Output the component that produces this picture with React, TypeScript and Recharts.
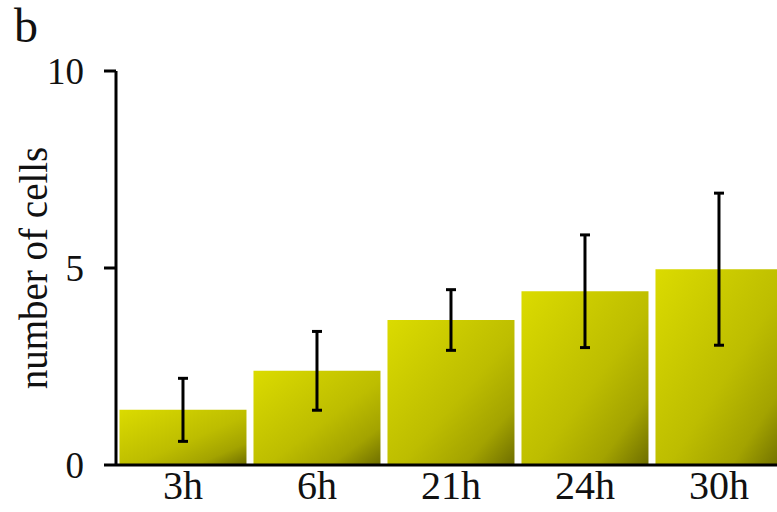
import { BarChart, Bar, XAxis, YAxis, ErrorBar } from 'recharts';

// time points and measured cell counts (mean ± error)
const timePoints = ['3h', '6h', '21h', '24h', '30h'];
const meanCells = [1.4, 2.39, 3.68, 4.41, 4.97];
const errCells = [0.8, 1.0, 0.77, 1.43, 1.93];
const yTicks = [0, 5, 10];

const data = timePoints.map((t, i) => ({ time: t, cells: meanCells[i], err: errCells[i] }));

const FONT = '"Liberation Serif", "Times New Roman", serif';

function YLabel(props: any) {
  const vb = props.viewBox;
  const x = vb.x + 33;
  const y = vb.y + vb.height / 2;
  return (
    <text x={x} y={y} transform={`rotate(-90, ${x}, ${y})`} textAnchor="middle" dominantBaseline="central"
      fontFamily={FONT} fontSize={39} fill="#111">
      number of cells
    </text>
  );
}

export default function App() {
  return (
    <div style={{ position: 'absolute', left: 0, top: 0, width: 777, height: 512, overflow: 'hidden', background: '#fff' }}>
      <div style={{ position: 'absolute', left: 14, top: 2, fontFamily: FONT, fontSize: 48, color: '#111', lineHeight: 1 }}>b</div>
      <BarChart width={786} height={512} data={data} margin={{ top: 71, right: 0, bottom: 0, left: 0 }} barCategoryGap="2.6%">
        <defs>
          <linearGradient id="barGrad" x1="0" y1="0" x2="1" y2="1">
            <stop offset="0%" stopColor="#dbdb00" />
            <stop offset="55%" stopColor="#bdbd00" />
            <stop offset="80%" stopColor="#a3a300" />
            <stop offset="100%" stopColor="#6e6e00" />
          </linearGradient>
        </defs>
        <XAxis dataKey="time" height={47} tickLine={false} axisLine={{ stroke: '#000', strokeWidth: 3 }}
          tick={{ fontFamily: FONT, fontSize: 40, fill: '#111' }} tickMargin={0} interval={0} />
        <YAxis width={116} domain={[0, 10]} ticks={yTicks} tickSize={12} tickMargin={20}
          axisLine={{ stroke: '#000', strokeWidth: 3 }} tickLine={{ stroke: '#000', strokeWidth: 3 }}
          tick={{ fontFamily: FONT, fontSize: 37, fill: '#111' }}
          label={{ content: YLabel }} />
        <Bar dataKey="cells" fill="url(#barGrad)" isAnimationActive={false}>
          <ErrorBar dataKey="err" width={5} stroke="#000" strokeWidth={3} direction="y" />
        </Bar>
      </BarChart>
    </div>
  );
}
